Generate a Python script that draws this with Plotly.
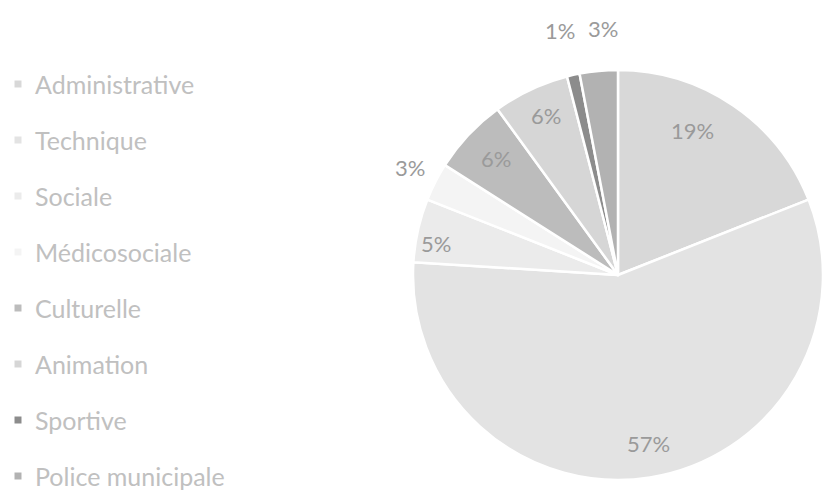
import math
import plotly.graph_objects as go

# Répartition des agents par filière (en %)
categories = ["Administrative", "Technique", "Sociale", "Médicosociale",
              "Culturelle", "Animation", "Sportive", "Police municipale"]
shares = [19, 57, 5, 3, 6, 6, 1, 3]

# Styles
slice_colors = ["#d8d8d8", "#e3e3e3", "#ebebeb", "#f4f4f4",
                "#bcbcbc", "#d6d6d6", "#8c8c8c", "#b2b2b2"]
# radial position of each percentage label (fraction of radius) and pixel nudge
label_radius = [0.78, 0.83, 0.91, 1.15, 0.83, 0.86, 1.22, 1.20]
label_nudge = [(-15, -12), (4, 0), (0, 9), (2, 0), (2, 0), (3, 0), (-3, 0), (8, -2)]

W, H = 823, 492
dom_x = [0.5018, 1.0]
dom_y = [0.0244, 0.8577]

fig = go.Figure(go.Pie(
    labels=categories,
    values=shares,
    sort=False,
    direction="clockwise",
    rotation=0,
    textinfo="none",
    hoverinfo="label+percent",
    marker=dict(colors=slice_colors, line=dict(color="white", width=2.5)),
    domain=dict(x=dom_x, y=dom_y),
    showlegend=False,
))

# Pie geometry in pixels (circle centred in its domain)
cx = (dom_x[0] + dom_x[1]) / 2 * W
cy = (1 - (dom_y[0] + dom_y[1]) / 2) * H
r = min((dom_x[1] - dom_x[0]) * W, (dom_y[1] - dom_y[0]) * H) / 2

total = sum(shares)
annotations = []
cum = 0
for v, f, (dx, dy) in zip(shares, label_radius, label_nudge):
    mid = (cum + v / 2) / total * 2 * math.pi
    cum += v
    px = cx + f * r * math.sin(mid) + dx
    py = cy - f * r * math.cos(mid) + dy
    annotations.append(dict(
        x=px / W, y=1 - py / H, xref="paper", yref="paper",
        text=f"{round(v / total * 100)}%", showarrow=False,
        font=dict(family="Lato", size=22, color="#9a9a9a"),
        xanchor="center", yanchor="middle",
    ))

# Legend column on the left
shapes = []
leg_top, leg_step = 84, 56
for i, (name, col) in enumerate(zip(categories, slice_colors)):
    yc = leg_top + i * leg_step
    shapes.append(dict(
        type="rect", xref="paper", yref="paper",
        x0=14.5 / W, x1=21.5 / W, y0=1 - (yc + 3.5) / H, y1=1 - (yc - 3.5) / H,
        fillcolor=col, line=dict(width=0),
    ))
    annotations.append(dict(
        x=33 / W, y=1 - yc / H, xref="paper", yref="paper",
        text=name, showarrow=False, xanchor="left", yanchor="middle",
        font=dict(family="Lato", size=25, color="#c0c0c0"),
    ))

fig.update_layout(
    width=W, height=H,
    margin=dict(l=0, r=0, t=0, b=0),
    paper_bgcolor="white",
    plot_bgcolor="white",
    annotations=annotations,
    shapes=shapes,
)

fig.write_html("out.html")
